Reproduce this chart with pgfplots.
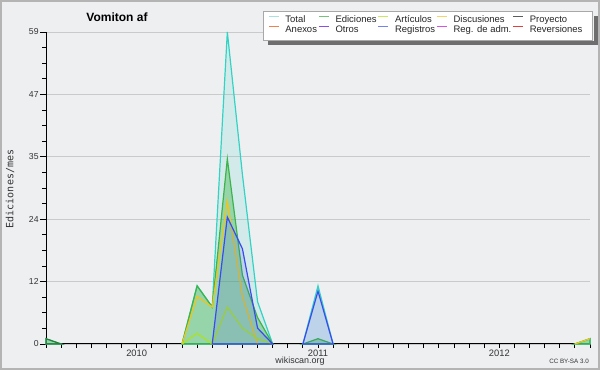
\documentclass[border=0pt]{standalone}
\usepackage{fontspec}
\setmainfont{Liberation Sans}
\newfontfamily\monofont{DejaVu Sans Mono}
\usepackage{pgfplots}
\pgfplotsset{compat=1.18}
\definecolor{bg}{HTML}{EEEFF1}
\definecolor{framec}{HTML}{B4B4B4}
\definecolor{gridc}{HTML}{CACACA}
\definecolor{tickc}{HTML}{333333}
\definecolor{legframe}{HTML}{A8A8A8}
\definecolor{shadowc}{HTML}{6E6E6E}
% plot line colours
\definecolor{ctot}{HTML}{33D3C4}
\definecolor{cedi}{HTML}{3CB44B}
\definecolor{cart}{HTML}{ADE31E}
\definecolor{cdis}{HTML}{F0C419}
\definecolor{creg}{HTML}{3A4AF0}
% legend colours
\definecolor{ltot}{HTML}{A6E3E0}
\definecolor{ledi}{HTML}{74C477}
\definecolor{lart}{HTML}{C8E864}
\definecolor{ldis}{HTML}{F8D264}
\definecolor{lpro}{HTML}{5C5C5C}
\definecolor{lane}{HTML}{F08050}
\definecolor{lotr}{HTML}{8A50E6}
\definecolor{lreg}{HTML}{7482F0}
\definecolor{ladm}{HTML}{D652E6}
\definecolor{lrev}{HTML}{E04040}
\begin{document}
\begin{tikzpicture}
\fill[bg] (0,0) rectangle (450pt,277.5pt);
\draw[framec, line width=1.2pt] (0.6pt,0.6pt) rectangle (449.4pt,276.9pt);
\node[font=\bfseries\fontsize{9}{11}\selectfont, text=black] at (87.75pt,264.75pt) {Vomiton af};
\node[rotate=90, font=\monofont\fontsize{7.5}{9}\selectfont, text=tickc] at (7.5pt,135.75pt) {Ediciones/mes};
\node[font=\fontsize{6.7}{8}\selectfont, text=tickc] at (225pt,6.5pt) {wikiscan.org};
\node[font=\fontsize{4.7}{6}\selectfont, text=tickc] at (426.75pt,6.5pt) {CC BY-SA 3.0};
\begin{axis}[
  at={(34.5pt,19.5pt)}, anchor=south west,
  scale only axis, width=408pt, height=234pt,
  clip=false,
  xmin=0, xmax=36, ymin=0, ymax=59,
  axis x line*=bottom, axis y line*=left,
  axis line style={black, line width=0.75pt, -},
  xtick={6,18,30}, xticklabels={2010,2011,2012},
  minor xtick={0,1,...,36},
  major x tick style={draw=none},
  ytick={0,11.8,23.6,35.4,47.2,59}, yticklabels={0,12,24,35,47,59},
  minor y tick num=3,
  tick align=outside,
  major tick length=4.5pt, minor tick length=3pt,
  tick style={black, line width=0.6pt},
  ymajorgrids, grid style={gridc, line width=0.6pt},
  /pgf/number format/assume math mode=true,
  xticklabel style={font=\fontsize{7}{8}\selectfont, text=tickc, yshift=3.5pt},
  yticklabel style={font=\fontsize{6.5}{8}\selectfont, text=tickc, xshift=2.5pt},
  legend columns=5,
  legend cell align=left,
  legend image code/.code={\draw[#1] (0pt,2.6pt) -- (7.5pt,2.6pt);},
  legend style={at={(0.408,1.0538)}, anchor=north west,
    draw=none, fill=none,
    font=\fontsize{7.1}{8}\selectfont, text=black!85,
    inner sep=0pt,
    nodes={inner sep=0pt, text height=5.5pt, text depth=1.5pt},
    row sep=0.5pt,
    /tikz/every odd column/.append style={column sep=4.6pt},
    /tikz/every even column/.append style={column sep=1pt}},
]
% Total
\addplot[forget plot, draw=ctot, line width=0.9pt, fill=ctot, fill opacity=0.15] coordinates {(0,1)(1,0)} \closedcycle;
\addplot[forget plot, draw=ctot, line width=0.9pt, fill=ctot, fill opacity=0.15] coordinates {(9,0)(10,11)(11,7)(12,59)(13,32)(14,8)(15,0)} \closedcycle;
\addplot[forget plot, draw=ctot, line width=0.9pt, fill=ctot, fill opacity=0.15] coordinates {(17,0)(18,11)(19,0)} \closedcycle;
\addplot[forget plot, draw=ctot, line width=0.9pt, fill=ctot, fill opacity=0.15] coordinates {(35,0)(36,1)} \closedcycle;
% Ediciones
\addplot[forget plot, draw=cedi!70!black, line width=0.9pt, fill=cedi, fill opacity=0.4] coordinates {(0,1)(1,0)} \closedcycle;
\addplot[forget plot, draw=cedi, line width=0.9pt, fill=cedi, fill opacity=0.4] coordinates {(9,0)(10,11)(11,7)(12,35)(13,13)(14,5)(15,0)} \closedcycle;
\addplot[forget plot, draw=cedi, line width=0.9pt, fill=cedi, fill opacity=0.4] coordinates {(17,0)(18,1)(19,0)} \closedcycle;
\addplot[forget plot, draw=cedi, line width=0.9pt, fill=cedi, fill opacity=0.4] coordinates {(35,0)(36,1)} \closedcycle;
% Discusiones
\addplot[forget plot, draw=cdis, line width=0.9pt] coordinates {(9,0)(10,9)(11,7)(12,27)(13,9)(14,0)};
\addplot[forget plot, draw=cdis, line width=0.9pt] coordinates {(35,0)(36,1)};
% Articulos
\addplot[forget plot, draw=cart, line width=0.9pt] coordinates {(9,0)(10,2)(11,0)(12,7)(13,3)(14,1)(15,0)};
% Registros
\addplot[forget plot, draw=creg, line width=0.9pt, fill=creg, fill opacity=0.14] coordinates {(11,0)(12,24)(13,18)(14,3)(15,0)} \closedcycle;
\addplot[forget plot, draw=creg, line width=0.9pt, fill=creg, fill opacity=0.14] coordinates {(17,0)(18,10)(19,0)} \closedcycle;
% legend box
\draw[draw=legframe, line width=0.75pt, fill=white] (rel axis cs:0.4007,1.0641) rectangle (rel axis cs:1.0055,0.9712);
% legend
\addlegendimage{draw=ltot, line width=0.8pt}\addlegendentry{Total}
\addlegendimage{draw=ledi, line width=0.8pt}\addlegendentry{Ediciones}
\addlegendimage{draw=lart, line width=0.8pt}\addlegendentry{Artículos}
\addlegendimage{draw=ldis, line width=0.8pt}\addlegendentry{Discusiones}
\addlegendimage{draw=lpro, line width=0.8pt}\addlegendentry{Proyecto}
\addlegendimage{draw=lane, line width=0.8pt}\addlegendentry{Anexos}
\addlegendimage{draw=lotr, line width=0.8pt}\addlegendentry{Otros}
\addlegendimage{draw=lreg, line width=0.8pt}\addlegendentry{Registros}
\addlegendimage{draw=ladm, line width=0.8pt}\addlegendentry{Reg. de adm.}
\addlegendimage{draw=lrev, line width=0.8pt}\addlegendentry{Reversiones}
\end{axis}
% legend shadow strips (right and bottom), drawn last
\fill[shadowc] (445.2pt,243.75pt) rectangle (448.2pt,265.5pt);
\fill[shadowc] (201pt,243.75pt) rectangle (448.2pt,246.6pt);
\pgfresetboundingbox
\path[use as bounding box] (0,0) rectangle (450pt,277.5pt);
\end{tikzpicture}
\end{document}
